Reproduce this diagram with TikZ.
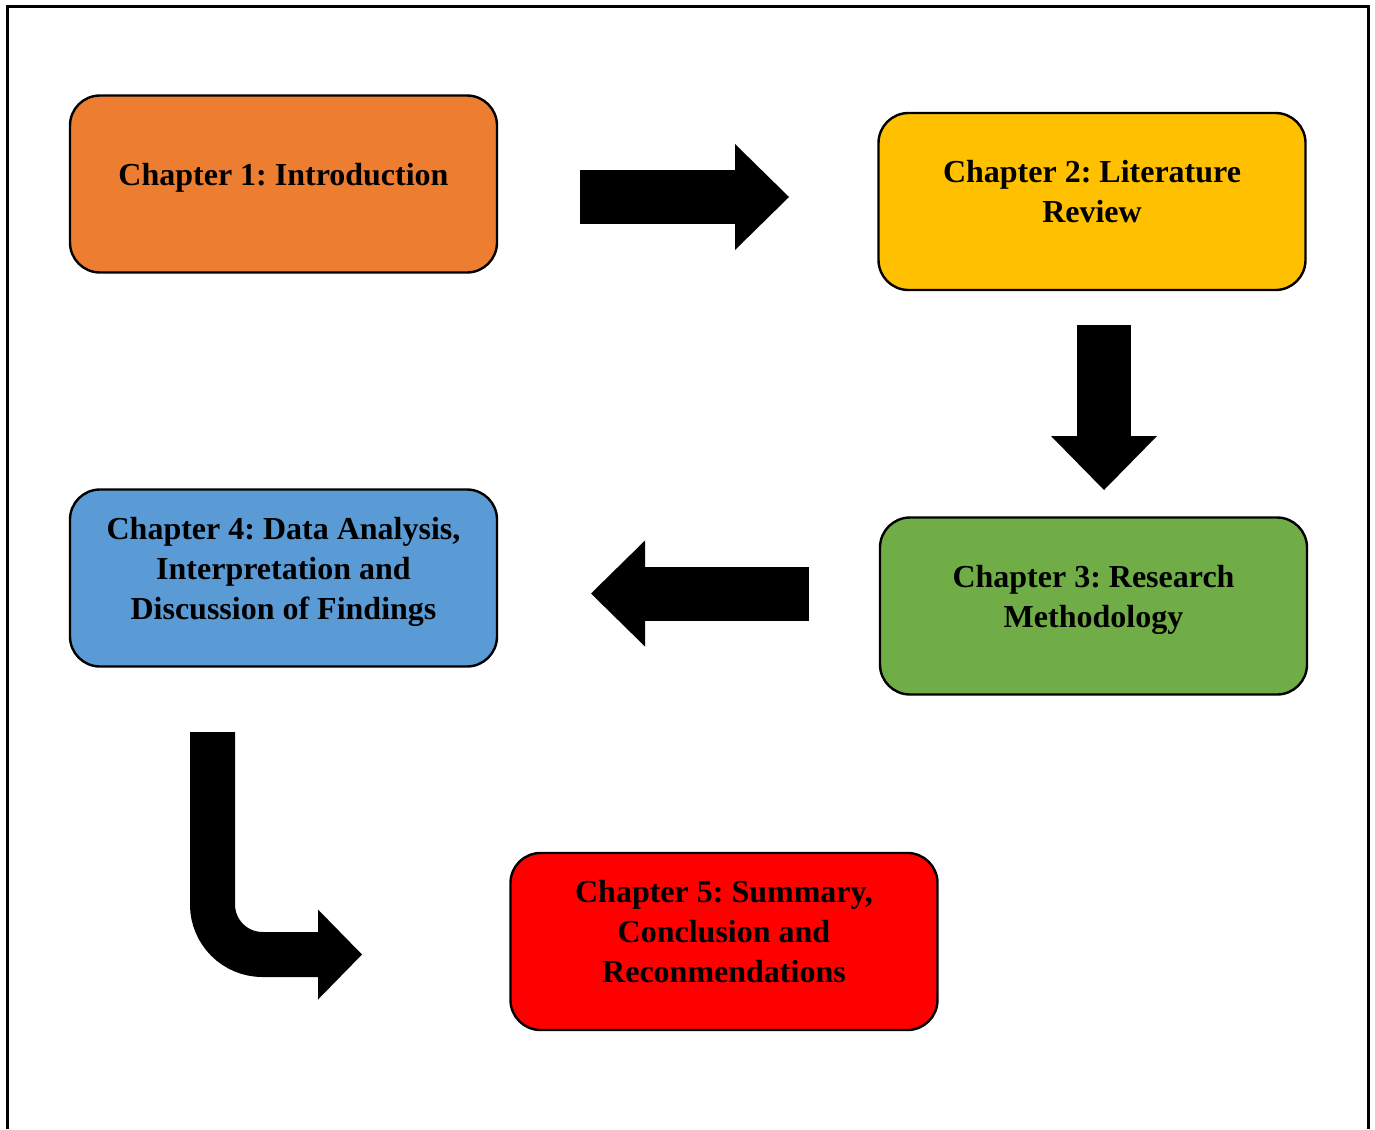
\documentclass[tikz,border=0pt]{standalone}
\usepackage{fontspec}
\setmainfont{Liberation Serif}
\usetikzlibrary{arrows.meta}
\definecolor{chorange}{HTML}{ED7D31}
\definecolor{chyellow}{HTML}{FFC000}
\definecolor{chgreen}{HTML}{70AD47}
\definecolor{chblue}{HTML}{5B9BD5}
\definecolor{chred}{HTML}{FF0000}
\newcommand{\padbot}{\rule[-10pt]{0pt}{10pt}}
\frenchspacing

\begin{document}
\begin{tikzpicture}[x=0.5pt,y=-0.5pt,font=\fontsize{16}{20}\selectfont\bfseries,
    chbox/.style={draw,line width=1.2pt,rounded corners=15pt,align=center,
        minimum width=213.5pt,minimum height=88.5pt},
    fat/.style={line width=27pt,-{Triangle[length=27pt,width=53pt,line width=0pt]}}]
    \useasboundingbox (0,0) rectangle (1375,1129);
    \draw [line width=1.5pt] (7,1129) -- (7,7) -- (1368,7) -- (1368,1129);
    \node (C1) [chbox,fill=chorange] at (283.5,184)  {Chapter 1: Introduction\padbot};
    \node (C2) [chbox,fill=chyellow] at (1092,201.5) {Chapter 2: Literature\\Review\padbot};
    \node (C3) [chbox,fill=chgreen]  at (1093.5,606) {Chapter 3: Research\\Methodology\padbot};
    \node (C4) [chbox,fill=chblue]   at (283.5,578)  {Chapter 4: Data Analysis,\\Interpretation and\\Discussion of Findings\padbot};
    \node (C5) [chbox,fill=chred]    at (724,941.5)  {Chapter 5: Summary,\\Conclusion and\\Reconmendations\padbot};
    \coordinate (A1) at (580,197);
    \coordinate (A2) at (789,197);
    \coordinate (A3) at (1104,325);
    \coordinate (A4) at (1104,490);
    \coordinate (A5) at (809,593.5);
    \coordinate (A6) at (591,593.5);
    \coordinate (B1) at (212.5,732);
    \coordinate (B2) at (362,954.5);
    \draw [fat] (A1) -- (A2);
    \draw [fat] (A3) -- (A4);
    \draw [fat] (A5) -- (A6);
    \draw [line width=22.5pt,rounded corners=25pt,
        -{Triangle[length=22pt,width=45pt,line width=0pt]}] (B1) |- (B2);
\end{tikzpicture}
\end{document}
